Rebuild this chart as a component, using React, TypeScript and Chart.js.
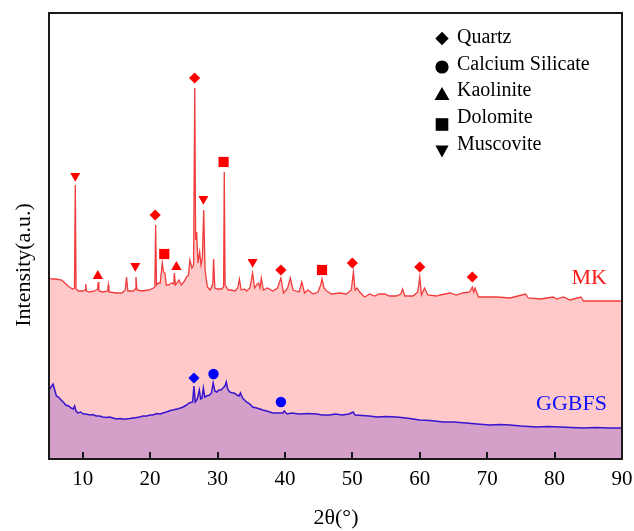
import React, { useEffect, useRef } from 'react';
import { Chart, registerables } from 'chart.js';

Chart.register(...registerables);

const FONT = '"Liberation Serif", "Times New Roman", serif';

const xTicks = [10, 20, 30, 40, 50, 60, 70, 80, 90];
const seriesNames = ['MK', 'GGBFS'];
const phaseNames = ['Quartz', 'Calcium Silicate', 'Kaolinite', 'Dolomite', 'Muscovite'];

// MK pattern: [2θ, intensity]
const mkPoints: [number, number][] = [
  [5.0, 181], [5.5, 180], [6.0, 180], [6.9, 179], [7.5, 175], [8.0, 172], [8.5, 170], [8.78, 171], [8.9, 274], [9.02, 170],
  [9.4, 168], [10.0, 168], [10.35, 169], [10.45, 175], [10.55, 168], [11.0, 167], [11.8, 168], [12.2, 170], [12.3, 177], [12.4, 168],
  [13.0, 167], [13.7, 168], [13.8, 174], [13.9, 167], [15.0, 166], [15.8, 166], [16.3, 169], [16.5, 182], [16.7, 168], [17.5, 168],
  [17.8, 170], [17.9, 182], [18.05, 169], [18.8, 168], [19.8, 169], [20.5, 171], [20.7, 172], [20.82, 234], [20.95, 174], [21.2, 176],
  [21.5, 176], [21.8, 196], [22.0, 187], [22.2, 186], [22.4, 174], [22.7, 174], [23.2, 176], [23.5, 175], [23.6, 186], [23.75, 174],
  [24.3, 179], [24.6, 174], [25.0, 177], [25.4, 182], [25.7, 184], [25.9, 199], [26.2, 191], [26.45, 194], [26.62, 371], [26.75, 219],
  [26.9, 227], [27.1, 196], [27.35, 207], [27.55, 194], [27.75, 201], [27.95, 249], [28.15, 189], [28.5, 172], [28.9, 169], [29.3, 175],
  [29.42, 200], [29.6, 171], [30.0, 170], [30.6, 170], [30.9, 172], [31.0, 287], [31.12, 174], [31.6, 169], [32.0, 169], [32.6, 168],
  [33.0, 171], [33.25, 180], [33.5, 169], [34.0, 170], [34.3, 168], [34.8, 171], [35.2, 186], [35.5, 171], [35.9, 175], [36.1, 176],
  [36.3, 171], [36.5, 181], [36.8, 169], [37.4, 171], [38.2, 168], [38.9, 171], [39.4, 181], [39.8, 166], [40.4, 171], [40.8, 181],
  [41.2, 169], [42.1, 167], [42.5, 177], [42.9, 166], [43.4, 169], [44.2, 165], [44.9, 167], [45.3, 174], [45.5, 180], [45.8, 171],
  [46.2, 168], [46.9, 165], [48.1, 166], [49.1, 165], [49.85, 169], [50.15, 187], [50.4, 169], [50.7, 171], [51.1, 167], [51.8, 162],
  [52.6, 165], [53.3, 163], [54.0, 165], [54.8, 165], [55.5, 163], [56.5, 163], [57.2, 165], [57.45, 170], [57.8, 163], [59.0, 163],
  [59.7, 167], [60.0, 182], [60.25, 164], [60.7, 171], [61.2, 164], [62.5, 163], [63.0, 164], [64.5, 166], [65.4, 164], [66.4, 166],
  [67.4, 167], [67.8, 172], [68.0, 167], [68.2, 171], [68.7, 162], [69.9, 162], [71.4, 162], [73.4, 161], [75.7, 165], [76.1, 161],
  [77.9, 160], [79.8, 162], [80.3, 160], [81.3, 162], [82.3, 159], [83.9, 162], [84.3, 158], [86.2, 158], [88.2, 158], [90.0, 158],
];

// GGBFS pattern: [2θ, intensity]
const ggPoints: [number, number][] = [
  [5.0, 69], [5.3, 72], [5.6, 75], [5.8, 70], [6.1, 63], [6.4, 62], [6.8, 59], [7.1, 57], [7.5, 54], [7.9, 53],
  [8.3, 51], [8.6, 50], [8.8, 53], [9.0, 48], [9.3, 46], [9.7, 47], [10.1, 45], [10.5, 45], [11.0, 44], [11.5, 44.5],
  [12.0, 43], [12.5, 43], [13.0, 42], [13.5, 41.5], [14.0, 42], [14.5, 41], [15.0, 40], [15.5, 40.5], [16.0, 40], [16.4, 40],
  [17.0, 40.5], [17.5, 41], [18.0, 41.5], [18.4, 42], [19.0, 43], [19.5, 43], [20.0, 44], [20.4, 44], [21.0, 45.5], [21.5, 45],
  [21.9, 46], [22.4, 47], [23.0, 48.5], [23.4, 49], [24.0, 50], [24.5, 51], [24.9, 52], [25.4, 54], [25.8, 56], [26.3, 57],
  [26.5, 73], [26.7, 57], [27.0, 60], [27.3, 69], [27.5, 60], [27.7, 61], [27.9, 71], [28.1, 62], [28.4, 63], [28.8, 64],
  [29.1, 66], [29.35, 76], [29.6, 68], [29.9, 67], [30.2, 69], [30.5, 69], [30.8, 71], [31.1, 73], [31.3, 77], [31.5, 70],
  [31.8, 67], [32.2, 66], [32.5, 66], [32.9, 64], [33.2, 63], [33.4, 66], [33.7, 61], [34.0, 59], [34.3, 57], [34.8, 55],
  [35.2, 52], [35.8, 51], [36.3, 50], [36.7, 49], [37.3, 48], [38.2, 46], [39.0, 46], [39.7, 46], [39.9, 48], [40.3, 45],
  [41.0, 46], [42.2, 45], [43.5, 45.5], [44.7, 45], [45.5, 44], [46.6, 44], [47.5, 45], [48.5, 44], [49.5, 45], [50.1, 47],
  [50.4, 44], [51.5, 43.5], [52.5, 43], [53.6, 42], [55.0, 42.5], [56.5, 42], [58.0, 41], [59.0, 40], [60.0, 39], [61.5, 38.5],
  [63.5, 37], [65.0, 37], [66.9, 36], [68.5, 35], [70.4, 34], [72.0, 34.5], [73.4, 34], [75.0, 33], [77.3, 32], [79.0, 32.5],
  [80.8, 32], [82.5, 31.5], [84.3, 31], [86.0, 31.5], [88.2, 31], [90.0, 31],
];

// Phase markers
const quartzMK: [number, number][] = [[20.75, 244], [26.6, 381], [39.4, 189], [50.0, 196], [60.0, 192], [67.8, 182]];
const dolomiteMK: [number, number][] = [[22.1, 205], [30.9, 297], [45.5, 189]];
const kaoliniteMK: [number, number][] = [[12.25, 183], [23.9, 192]];
const muscoviteMK: [number, number][] = [[8.9, 283], [17.8, 193], [27.9, 260], [35.2, 197]];
const quartzGG: [number, number][] = [[26.5, 81]];
const calciumGG: [number, number][] = [[29.4, 85], [39.4, 57]];

const toXY = (pts: [number, number][]) => pts.map(([x, y]) => ({ x, y }));

function markerSet(pts: [number, number][], color: string, style: string, radius: number, rotation = 0) {
  return {
    type: 'line' as const,
    data: toXY(pts),
    showLine: false,
    pointStyle: style,
    pointRadius: radius,
    pointRotation: rotation,
    pointBackgroundColor: color,
    pointBorderColor: color,
    pointBorderWidth: 0,
    order: 0,
  };
}

function drawShape(ctx: CanvasRenderingContext2D, shape: string, x: number, y: number, s: number) {
  ctx.beginPath();
  if (shape === 'diamond') {
    ctx.moveTo(x, y - s); ctx.lineTo(x + s, y); ctx.lineTo(x, y + s); ctx.lineTo(x - s, y);
  } else if (shape === 'circle') {
    ctx.arc(x, y, s, 0, Math.PI * 2);
  } else if (shape === 'triangle') {
    ctx.moveTo(x, y - s); ctx.lineTo(x + s * 1.15, y + s); ctx.lineTo(x - s * 1.15, y + s);
  } else if (shape === 'square') {
    ctx.rect(x - s, y - s, 2 * s, 2 * s);
  } else {
    ctx.moveTo(x - s, y - s * 0.9); ctx.lineTo(x + s, y - s * 0.9); ctx.lineTo(x, y + s * 0.9);
  }
  ctx.closePath();
  ctx.fill();
}

const decorPlugin = {
  id: 'decor',
  afterDraw(chart: any) {
    const { ctx, chartArea: a, scales } = chart;
    const x = scales.x;
    ctx.save();
    // inward ticks
    ctx.strokeStyle = '#1a1a1a';
    ctx.lineWidth = 2;
    xTicks.forEach((v) => {
      const px = Math.round(x.getPixelForValue(v));
      ctx.beginPath();
      ctx.moveTo(px, a.bottom);
      ctx.lineTo(px, a.bottom - 7);
      ctx.stroke();
    });
    // frame
    ctx.strokeRect(a.left, a.top, a.right - a.left, a.bottom - a.top);

    // legend
    const shapes = ['diamond', 'circle', 'triangle', 'square', 'down'];
    const textY = [38, 64.5, 91, 117.5, 144.5];
    const markY = [38.5, 67, 93.5, 124.5, 151.5];
    const sizes = [6.7, 6.6, 6.5, 6.3, 6.6];
    ctx.fillStyle = '#000';
    ctx.font = `20px ${FONT}`;
    ctx.textAlign = 'left';
    ctx.textBaseline = 'middle';
    phaseNames.forEach((name, i) => {
      drawShape(ctx, shapes[i], 442, markY[i], sizes[i]);
      ctx.fillText(name, 457, textY[i]);
    });

    // series labels
    ctx.font = `22px ${FONT}`;
    ctx.textAlign = 'right';
    ctx.fillStyle = '#ff1a1a';
    ctx.fillText(seriesNames[0], 607, 278);
    ctx.fillStyle = '#1010ff';
    ctx.fillText(seriesNames[1], 607, 404);

    // axis titles
    ctx.fillStyle = '#000';
    ctx.textAlign = 'center';
    ctx.fillText('2θ(°)', 336, 518);
    ctx.translate(24, 265);
    ctx.rotate(-Math.PI / 2);
    ctx.fillText('Intensity(a.u.)', 0, 0);
    ctx.restore();
  },
};

export default function App() {
  const ref = useRef<HTMLCanvasElement>(null);
  useEffect(() => {
    if (!ref.current) return;
    Chart.defaults.font.family = FONT;
    const chart = new Chart(ref.current, {
      type: 'line',
      data: {
        datasets: [
          markerSet(quartzMK, '#ff0000', 'rectRot', 5.6),
          markerSet(dolomiteMK, '#ff0000', 'rect', 7.2),
          markerSet(kaoliniteMK, '#ff0000', 'triangle', 6.0),
          markerSet(muscoviteMK, '#ff0000', 'triangle', 5.8, 180),
          markerSet(quartzGG, '#0000ff', 'rectRot', 5.6),
          markerSet(calciumGG, '#0000ff', 'circle', 5.2),
          {
            label: seriesNames[1],
            data: toXY(ggPoints),
            borderColor: 'rgb(55,20,205)',
            borderWidth: 1.5,
            backgroundColor: 'rgb(212,160,202)',
            fill: 'origin',
            pointRadius: 0,
            tension: 0,
            order: 1,
          },
          {
            label: seriesNames[0],
            data: toXY(mkPoints),
            borderColor: 'rgb(240,60,60)',
            borderWidth: 1.3,
            backgroundColor: 'rgb(255,201,201)',
            fill: 'origin',
            pointRadius: 0,
            tension: 0,
            order: 2,
          },
        ] as any,
      },
      options: {
        animation: false,
        responsive: false,
        maintainAspectRatio: false,
        layout: { padding: { left: 49, right: 12, top: 13, bottom: 0 } },
        plugins: { legend: { display: false }, tooltip: { enabled: false } },
        scales: {
          x: {
            type: 'linear',
            min: 5,
            max: 90,
            grid: { display: false, drawTicks: false },
            border: { display: false },
            ticks: { color: '#000', font: { size: 21, family: FONT }, padding: 8, maxRotation: 0 },
            afterBuildTicks: (scale: any) => {
              scale.ticks = xTicks.map((v) => ({ value: v }));
            },
            afterFit: (scale: any) => {
              scale.height = 72;
              scale.paddingLeft = 0;
              scale.paddingRight = 0;
            },
          },
          y: { display: false, min: 0, max: 446 },
        },
      },
      plugins: [decorPlugin],
    });
    return () => chart.destroy();
  }, []);
  return (
    <div style={{ position: 'fixed', left: 0, top: 0, width: 634, height: 531, background: '#fff' }}>
      <canvas ref={ref} width={634} height={531} style={{ display: 'block' }} />
    </div>
  );
}
